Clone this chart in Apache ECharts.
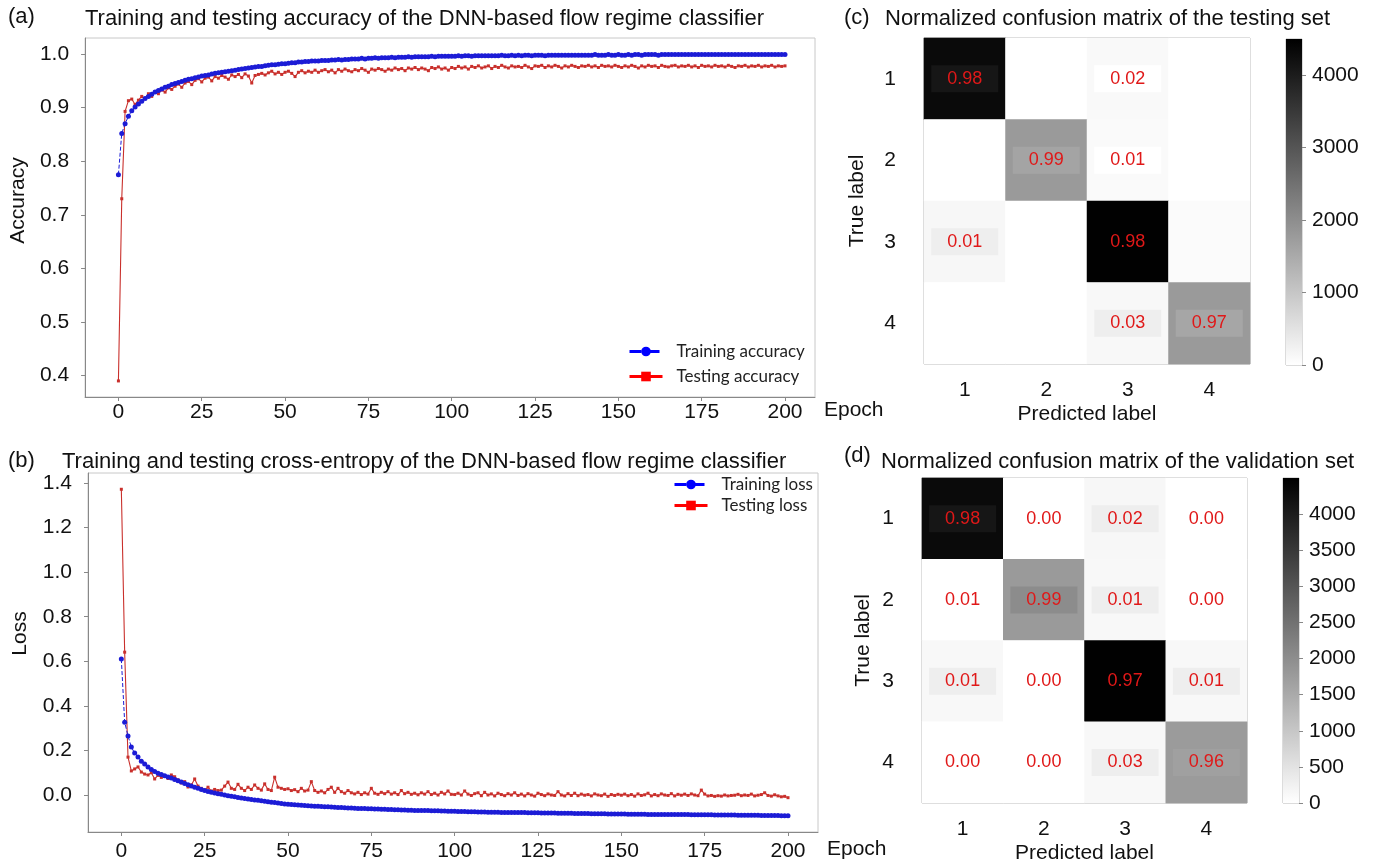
<!DOCTYPE html>
<html>
<head>
<meta charset="utf-8">
<title>DNN-based flow regime classifier</title>
<script src="https://cdn.jsdelivr.net/npm/echarts@6/dist/echarts.min.js"></script>
<style>
  html, body { margin: 0; padding: 0; background: #fff; }
  #chart { width: 1381px; height: 865px; }
</style>
</head>
<body>
<div id="chart"></div>
<script>
var dom = document.getElementById('chart');
var myChart = echarts.init(dom, null, { renderer: 'canvas' });

// axis ticks
var epochTicks = [0, 25, 50, 75, 100, 125, 150, 175, 200];
var accTicks = [0.4, 0.5, 0.6, 0.7, 0.8, 0.9, 1.0];
var lossTicks = [0, 0.2, 0.4, 0.6, 0.8, 1.0, 1.2, 1.4];
var classes = ['1', '2', '3', '4'];
var countRange = [0, 4500];
var testBarTicks = [0, 1000, 2000, 3000, 4000];
var valBarTicks = [0, 500, 1000, 1500, 2000, 2500, 3000, 3500, 4000];

// one value per epoch, 0..200
var trainAcc = [
  .775,.852,.870,.884,.894,.901,.907,.912,.917,.921,
  .925,.929,.932,.935,.938,.940,.943,.945,.947,.949,
  .951,.953,.954,.956,.957,.959,.960,.961,.963,.964,
  .965,.966,.967,.968,.969,.970,.971,.972,.973,.974,
  .975,.976,.977,.977,.978,.979,.980,.980,.981,.982,
  .982,.983,.984,.984,.985,.985,.986,.986,.987,.987,
  .987,.988,.988,.988,.989,.989,.990,.989,.990,.990,
  .991,.991,.991,.992,.991,.992,.992,.993,.992,.993,
  .993,.993,.994,.993,.994,.994,.994,.995,.994,.995,
  .995,.995,.995,.995,.996,.995,.996,.996,.996,.996,
  .996,.996,.997,.996,.997,.997,.996,.997,.997,.997,
  .997,.997,.997,.997,.997,.998,.997,.997,.998,.997,
  .998,.997,.998,.998,.997,.998,.998,.998,.997,.998,
  .998,.998,.998,.998,.998,.998,.998,.998,.998,.998,
  .998,.998,.998,.999,.998,.998,.998,.999,.998,.998,
  .999,.998,.998,.999,.998,.999,.999,.998,.999,.999,
  .999,.999,.998,.999,.999,.999,.999,.999,.999,.999,
  .999,.999,.999,.999,.999,.999,.999,.999,.999,.999,
  .999,.999,.999,.999,.999,.999,.999,.999,.999,.999,
  .999,.999,.999,.999,.999,.999,.999,.999,.999,.999,
  .999
];
var testAcc = [
  .390,.730,.893,.913,.916,.906,.914,.921,.917,.926,
  .921,.930,.926,.933,.929,.937,.934,.940,.944,.938,
  .946,.949,.943,.951,.954,.948,.955,.957,.950,.958,
  .955,.960,.957,.953,.961,.958,.962,.956,.963,.959,
  .946,.960,.962,.964,.961,.965,.968,.963,.966,.962,
  .966,.968,.964,.958,.966,.969,.965,.968,.966,.970,
  .966,.969,.971,.967,.970,.965,.971,.968,.972,.969,
  .967,.971,.969,.973,.970,.966,.972,.970,.973,.971,
  .968,.972,.970,.974,.971,.973,.969,.974,.972,.975,
  .971,.974,.972,.969,.975,.973,.976,.972,.974,.970,
  .975,.973,.977,.974,.976,.972,.977,.975,.978,.974,
  .976,.978,.973,.977,.975,.979,.976,.974,.978,.976,
  .977,.975,.979,.976,.973,.978,.977,.979,.975,.978,
  .976,.979,.977,.974,.978,.976,.979,.977,.975,.978,
  .977,.979,.976,.978,.975,.979,.977,.978,.976,.979,
  .977,.975,.978,.976,.979,.977,.974,.978,.976,.979,
  .977,.978,.975,.979,.977,.976,.978,.979,.976,.978,
  .977,.979,.976,.978,.975,.979,.977,.978,.976,.979,
  .977,.978,.976,.979,.977,.975,.978,.977,.979,.976,
  .978,.977,.979,.976,.978,.977,.979,.976,.978,.977,
  .978
];
var trainLoss = [
  .610,.327,.265,.215,.188,.170,.152,.139,.126,.114,
  .105,.098,.092,.086,.081,.076,.070,.064,.058,.052,
  .046,.040,.035,.030,.025,.020,.016,.012,.009,.006,
  .003,.000,-.003,-.006,-.008,-.011,-.013,-.016,-.018,-.020,
  -.022,-.024,-.026,-.028,-.030,-.032,-.034,-.036,-.038,-.040,
  -.041,-.043,-.044,-.045,-.046,-.047,-.048,-.049,-.050,-.051,
  -.052,-.053,-.053,-.054,-.055,-.056,-.056,-.057,-.058,-.058,
  -.059,-.060,-.060,-.061,-.062,-.062,-.063,-.063,-.064,-.064,
  -.065,-.065,-.066,-.066,-.067,-.067,-.068,-.068,-.069,-.069,
  -.069,-.070,-.070,-.071,-.071,-.071,-.072,-.072,-.073,-.073,
  -.073,-.074,-.074,-.074,-.075,-.075,-.075,-.076,-.076,-.076,
  -.077,-.077,-.077,-.077,-.078,-.078,-.078,-.078,-.079,-.079,
  -.079,-.079,-.080,-.080,-.080,-.080,-.081,-.081,-.081,-.081,
  -.081,-.082,-.082,-.082,-.082,-.082,-.083,-.083,-.083,-.083,
  -.083,-.084,-.084,-.084,-.084,-.084,-.085,-.085,-.085,-.085,
  -.085,-.085,-.086,-.086,-.086,-.086,-.086,-.086,-.087,-.087,
  -.087,-.087,-.087,-.087,-.088,-.088,-.088,-.088,-.088,-.088,
  -.088,-.089,-.089,-.089,-.089,-.089,-.089,-.089,-.090,-.090,
  -.090,-.090,-.090,-.090,-.090,-.091,-.091,-.091,-.091,-.091,
  -.091,-.091,-.092,-.092,-.092,-.092,-.092,-.092,-.093,-.093,
  -.093
];
var testLoss = [
  1.372,.641,.170,.108,.117,.126,.103,.094,.090,.100,
  .072,.088,.079,.085,.074,.090,.082,.068,.054,.060,
  .036,.045,.072,.040,.030,.022,.035,.018,.025,.020,
  .022,.040,.058,.030,.025,.048,.030,.020,.035,.025,
  .045,.030,.022,.050,.025,.020,.080,.035,.030,.025,
  .028,.020,.024,.015,.030,.018,.022,.060,.020,.012,
  .018,.010,.025,.035,.012,.030,.015,.008,.020,.010,
  .005,.012,.002,.010,.004,.030,.008,.003,.012,.006,
  .015,.004,.010,.002,.020,.006,.012,.003,.008,.001,
  .010,.004,.015,.002,.008,.000,.012,.005,.018,.003,
  .002,.008,.000,.018,.004,-.002,.006,.010,-.003,.012,
  .000,.005,-.004,.008,.002,-.003,.006,.000,.010,-.002,
  .004,-.004,.006,.000,-.005,.008,.002,-.003,.005,.000,
  -.002,.015,.000,-.004,.006,-.002,.008,-.003,.004,-.001,
  .002,-.004,.005,.000,-.003,.004,-.006,.002,-.002,.003,
  -.001,.004,-.003,.002,-.005,.005,-.002,.001,.008,-.004,
  .002,-.003,.005,.000,-.002,.006,-.004,.003,-.001,.004,
  -.002,.005,.000,-.003,.022,.004,-.004,-.002,-.006,-.003,
  -.005,.000,-.004,-.002,-.001,.003,-.003,.000,-.002,.004,
  -.004,-.001,.002,.010,-.002,-.005,.001,-.004,-.008,-.006,
  -.012
];

// confusion matrices: rows = true label, cols = predicted label
var testCounts = [
  [4330, 0, 100, 0],
  [0, 1780, 90, 0],
  [135, 0, 4480, 70],
  [0, 0, 120, 1790]
];
var testNorm = [
  [0.98, null, 0.02, null],
  [null, 0.99, 0.01, null],
  [0.01, null, 0.98, null],
  [null, null, 0.03, 0.97]
];
var valCounts = [
  [4330, 0, 140, 0],
  [0, 1780, 120, 0],
  [130, 0, 4480, 120],
  [0, 0, 130, 1760]
];
var valNorm = [
  [0.98, 0.00, 0.02, 0.00],
  [0.01, 0.99, 0.01, 0.00],
  [0.01, 0.00, 0.97, 0.01],
  [0.00, 0.00, 0.03, 0.96]
];

// shaded boxes behind some of the cell labels
var testBoxes = [
  ['#161616', null, '#ffffff', null],
  [null, '#a4a4a4', '#ffffff', null],
  ['#eeeeee', null, null, null],
  [null, null, '#eeeeee', '#a6a6a6']
];
var valBoxes = [
  ['#161616', null, '#eeeeee', null],
  [null, '#8c8c8c', '#eeeeee', null],
  ['#eeeeee', null, null, '#eeeeee'],
  [null, null, '#eeeeee', '#a0a0a0']
];

var FONT = 'Liberation Sans';
var BLUE = '#1c1cd6';
var RED = '#c9302c';

function pairs(arr) {
  return arr.map(function (v, i) { return [i, v]; });
}

function cells(counts, norm, boxes) {
  var out = [];
  counts.forEach(function (row, r) {
    row.forEach(function (v, c) {
      var item = { value: [c, r, v] };
      if (norm[r][c] === null) {
        item.label = { show: false };
      } else if (boxes[r][c]) {
        item.label = { backgroundColor: boxes[r][c] };
      }
      out.push(item);
    });
  });
  return out;
}

function titleItem(text, left, top) {
  return {
    text: text, left: left, top: top, padding: 0,
    textStyle: { fontFamily: FONT, fontSize: 22, fontWeight: 'normal', color: '#111' }
  };
}

var tickFont = { fontFamily: FONT, fontSize: 21, color: '#111' };
var nameFont = { fontFamily: FONT, fontSize: 21, color: '#111' };

function lineXAxis(gridIndex, margin) {
  return {
    type: 'value', gridIndex: gridIndex, min: -10, max: 209,
    name: 'Epoch', nameLocation: 'end', nameGap: 9,
    nameTextStyle: Object.assign({ verticalAlign: 'top', padding: [margin - 2, 0, 0, 0] }, nameFont),
    axisLine: { onZero: false, lineStyle: { color: '#888' } },
    axisTick: { show: true, length: 4, customValues: epochTicks, lineStyle: { color: '#888' } },
    axisLabel: Object.assign({ margin: margin, customValues: epochTicks }, tickFont),
    splitLine: { show: false }
  };
}

function lineYAxis(gridIndex, min, max, ticks, name, gap, shift) {
  return {
    type: 'value', gridIndex: gridIndex, min: min, max: max,
    name: name, nameLocation: 'middle', nameGap: gap,
    nameTextStyle: Object.assign({ padding: [0, 0, 0, shift] }, nameFont),
    axisLine: { show: true, onZero: false, lineStyle: { color: '#888' } },
    axisTick: { show: true, length: 4, customValues: ticks, lineStyle: { color: '#888' } },
    axisLabel: Object.assign({
      margin: 16, customValues: ticks,
      formatter: function (v) { return v.toFixed(1); }
    }, tickFont),
    splitLine: { show: false }
  };
}

function matrixXAxis(gridIndex) {
  return {
    type: 'category', gridIndex: gridIndex, data: classes,
    name: 'Predicted label', nameLocation: 'middle', nameGap: 40, nameTextStyle: nameFont,
    axisLine: { show: false }, axisTick: { show: false },
    axisLabel: Object.assign({ margin: 16 }, tickFont),
    splitLine: { show: false }
  };
}

function matrixYAxis(gridIndex, gap) {
  return {
    type: 'category', gridIndex: gridIndex, data: classes, inverse: true,
    name: 'True label', nameLocation: 'middle', nameGap: gap, nameTextStyle: nameFont,
    axisLine: { show: false }, axisTick: { show: false },
    axisLabel: Object.assign({ margin: 28 }, tickFont),
    splitLine: { show: false }
  };
}

function barXAxis(gridIndex) {
  return {
    type: 'category', gridIndex: gridIndex, data: ['count'], show: false
  };
}

function barYAxis(gridIndex, interval) {
  return {
    type: 'value', gridIndex: gridIndex, position: 'right',
    min: countRange[0], max: countRange[1], interval: interval,
    axisLine: { show: false },
    axisTick: { show: true, length: 4, lineStyle: { color: '#888' } },
    axisLabel: Object.assign({
      margin: 10, showMaxLabel: false,
      formatter: function (v) { return String(v); }
    }, tickFont),
    splitLine: { show: false }
  };
}

function matrixLabel(norm) {
  return {
    show: true,
    formatter: function (p) {
      var v = norm[p.value[1]][p.value[0]];
      return v === null ? '' : v.toFixed(2);
    },
    color: '#e01818', fontFamily: FONT, fontSize: 18,
    padding: [5, 16, 4, 16]
  };
}

var barFill = new echarts.graphic.LinearGradient(0, 0, 0, 1, [
  { offset: 0, color: '#000000' },
  { offset: 1, color: '#ffffff' }
]);

var option = {
  animation: false,
  backgroundColor: '#ffffff',
  title: [
    titleItem('(a)', 8, 6),
    titleItem('Training and testing accuracy of the DNN-based flow regime classifier', 85, 8),
    titleItem('(b)', 8, 450),
    titleItem('Training and testing cross-entropy of the DNN-based flow regime classifier', 62, 451),
    titleItem('(c)', 844, 7),
    titleItem('Normalized confusion matrix of the testing set', 885, 8),
    titleItem('(d)', 844, 445),
    titleItem('Normalized confusion matrix of the validation set', 881, 451)
  ],
  legend: [
    {
      orient: 'vertical', left: 628, top: 343, padding: 0,
      itemWidth: 33, itemHeight: 12, itemGap: 8,
      textStyle: { fontFamily: 'Lato', fontSize: 17, color: '#222', padding: [0, 0, 0, 9] },
      data: [
        { name: 'Training accuracy', itemStyle: { color: '#0000ff' }, lineStyle: { color: '#0000ff', width: 3, type: 'dashed' } },
        { name: 'Testing accuracy', itemStyle: { color: '#ff0000' }, lineStyle: { color: '#ff0000', width: 3, type: 'solid' } }
      ]
    },
    {
      orient: 'vertical', left: 673, top: 476, padding: 0,
      itemWidth: 33, itemHeight: 12, itemGap: 4,
      textStyle: { fontFamily: 'Lato', fontSize: 17, color: '#222', padding: [0, 0, 0, 9] },
      data: [
        { name: 'Training loss', itemStyle: { color: '#0000ff' }, lineStyle: { color: '#0000ff', width: 3, type: 'dashed' } },
        { name: 'Testing loss', itemStyle: { color: '#ff0000' }, lineStyle: { color: '#ff0000', width: 3, type: 'solid' } }
      ]
    }
  ],
  grid: [
    { left: 85, top: 38, width: 730, height: 359, show: true, borderColor: '#c8c8c8', borderWidth: 1 },
    { left: 88, top: 473, width: 730, height: 359, show: true, borderColor: '#c8c8c8', borderWidth: 1 },
    { left: 924, top: 38, width: 326, height: 326, show: true, borderColor: '#a8a8a8', borderWidth: 1 },
    { left: 922, top: 478, width: 325, height: 325, show: true, borderColor: '#a8a8a8', borderWidth: 1 },
    { left: 1286, top: 39, width: 16, height: 326, show: true, borderColor: '#b8b8b8', borderWidth: 1 },
    { left: 1283, top: 478, width: 16, height: 325, show: true, borderColor: '#b8b8b8', borderWidth: 1 }
  ],
  xAxis: [
    lineXAxis(0, 5),
    lineXAxis(1, 9),
    matrixXAxis(2),
    matrixXAxis(3),
    barXAxis(4),
    barXAxis(5)
  ],
  yAxis: [
    lineYAxis(0, 0.36, 1.03, accTicks, 'Accuracy', 54, 34),
    lineYAxis(1, -0.166, 1.445, lossTicks, 'Loss', 57, 38),
    matrixYAxis(2, 56),
    matrixYAxis(3, 48),
    barYAxis(4, testBarTicks[1] - testBarTicks[0]),
    barYAxis(5, valBarTicks[1] - valBarTicks[0])
  ],
  visualMap: [
    {
      type: 'continuous', show: false, seriesIndex: [4, 5],
      min: countRange[0], max: countRange[1],
      inRange: { color: ['#ffffff', '#000000'] }
    }
  ],
  series: [
    {
      name: 'Testing accuracy', type: 'line', xAxisIndex: 0, yAxisIndex: 0,
      data: pairs(testAcc), symbol: 'rect', symbolSize: 3,
      itemStyle: { color: RED }, lineStyle: { color: RED, width: 1.1 }
    },
    {
      name: 'Training accuracy', type: 'line', xAxisIndex: 0, yAxisIndex: 0,
      data: pairs(trainAcc), symbol: 'circle', symbolSize: 5,
      itemStyle: { color: BLUE }, lineStyle: { color: BLUE, width: 1, type: 'dashed' }
    },
    {
      name: 'Testing loss', type: 'line', xAxisIndex: 1, yAxisIndex: 1,
      data: pairs(testLoss), symbol: 'rect', symbolSize: 3,
      itemStyle: { color: RED }, lineStyle: { color: RED, width: 1.1 }
    },
    {
      name: 'Training loss', type: 'line', xAxisIndex: 1, yAxisIndex: 1,
      data: pairs(trainLoss), symbol: 'circle', symbolSize: 5,
      itemStyle: { color: BLUE }, lineStyle: { color: BLUE, width: 1, type: 'dashed' }
    },
    {
      name: 'Testing set', type: 'heatmap', xAxisIndex: 2, yAxisIndex: 2,
      data: cells(testCounts, testNorm, testBoxes),
      label: matrixLabel(testNorm),
      emphasis: { disabled: true }
    },
    {
      name: 'Validation set', type: 'heatmap', xAxisIndex: 3, yAxisIndex: 3,
      data: cells(valCounts, valNorm, valBoxes),
      label: matrixLabel(valNorm),
      emphasis: { disabled: true }
    },
    {
      type: 'bar', xAxisIndex: 4, yAxisIndex: 4, silent: true,
      data: [countRange[1]], barWidth: '100%', itemStyle: { color: barFill }
    },
    {
      type: 'bar', xAxisIndex: 5, yAxisIndex: 5, silent: true,
      data: [countRange[1]], barWidth: '100%', itemStyle: { color: barFill }
    }
  ]
};

myChart.setOption(option);

window.addEventListener('resize', myChart.resize);
</script>
</body>
</html>
